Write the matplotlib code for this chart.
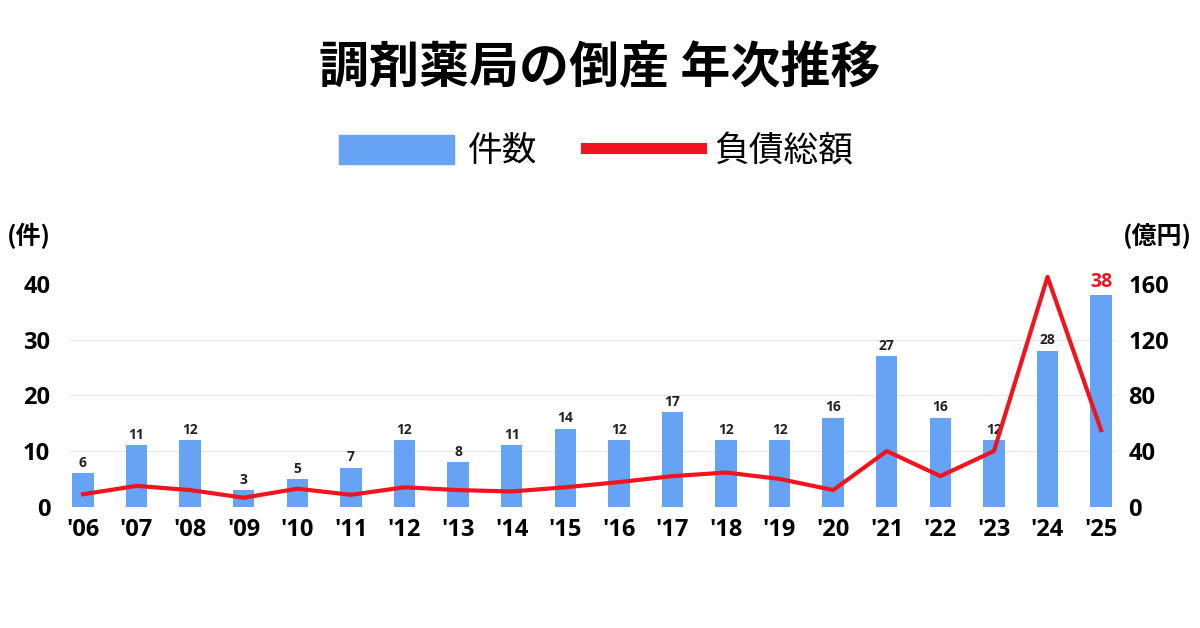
import matplotlib.pyplot as plt
from matplotlib.lines import Line2D
from matplotlib.patches import Patch

plt.rcParams['font.family'] = ['Open Sans', 'Noto Sans CJK JP', 'DejaVu Sans']

# データ
years = ["'06", "'07", "'08", "'09", "'10", "'11", "'12", "'13", "'14", "'15",
         "'16", "'17", "'18", "'19", "'20", "'21", "'22", "'23", "'24", "'25"]
counts = [6, 11, 12, 3, 5, 7, 12, 8, 11, 14, 12, 17, 12, 12, 16, 27, 16, 12, 28, 38]
debt = [9, 15, 12, 6.5, 13, 8.6, 14, 12, 11, 14, 17.7, 22, 24.6, 20, 12, 40, 22, 40, 165, 55]
left_ticks = [0, 10, 20, 30, 40]
right_ticks = [0, 40, 80, 120, 160]

bar_color = '#66a3f5'
line_color = '#f0141e'

fig = plt.figure(figsize=(12, 6.28), dpi=100)
ax = fig.add_axes([0.058, 0.193, 0.873, 0.355])
x = range(len(years))

ax.bar(x, counts, width=0.4, color=bar_color, zorder=2)
for i, c in enumerate(counts):
    last = i == len(counts) - 1
    ax.text(i, c + 0.6, str(c), ha='center', va='bottom',
            fontsize=14 if last else 10, fontweight='bold',
            color=line_color if last else '#222222', zorder=5)

ax.set_xlim(-0.25, 19.3)
ax.set_ylim(0, 40)
ax.set_yticks(left_ticks)
ax.set_xticks(list(x))
ax.set_xticklabels(years)
ax.grid(axis='y', color='#e6e6e6', linewidth=0.8, zorder=0)
ax.get_ygridlines()[-1].set_visible(False)
for s in ax.spines.values():
    s.set_visible(False)
ax.tick_params(length=0, labelsize=17, pad=8)
ax.tick_params(axis='y', pad=14)
for lab in ax.get_xticklabels() + ax.get_yticklabels():
    lab.set_fontweight('bold')

ax2 = ax.twinx()
ax2.plot(list(x), debt, color=line_color, linewidth=3, clip_on=False, zorder=4)
ax2.set_ylim(0, 160)
ax2.set_yticks(right_ticks)
for s in ax2.spines.values():
    s.set_visible(False)
ax2.tick_params(length=0, labelsize=17, pad=8)
for lab in ax2.get_yticklabels():
    lab.set_fontweight('bold')

fig.text(0.5, 0.89, '調剤薬局の倒産 年次推移', ha='center', va='center',
         fontsize=36, fontweight='bold', family=['Noto Sans CJK JP'])
fig.text(0.006, 0.625, '(件)', ha='left', va='center', fontsize=18, fontweight='bold',
         family=['Noto Sans CJK JP'])
fig.text(0.993, 0.625, '(億円)', ha='right', va='center', fontsize=18, fontweight='bold',
         family=['Noto Sans CJK JP'])

handles = [Patch(color=bar_color), Line2D([0], [0], color=line_color, linewidth=8)]
fig.legend(handles, ['件数', '負債総額'], loc='center', bbox_to_anchor=(0.497, 0.758),
           ncol=2, frameon=False, handlelength=3.3, handleheight=0.9,
           columnspacing=1.4, handletextpad=0.4,
           prop={'family': ['Noto Sans CJK JP'], 'size': 25})

fig.savefig('out.png', dpi=100, facecolor='white')
